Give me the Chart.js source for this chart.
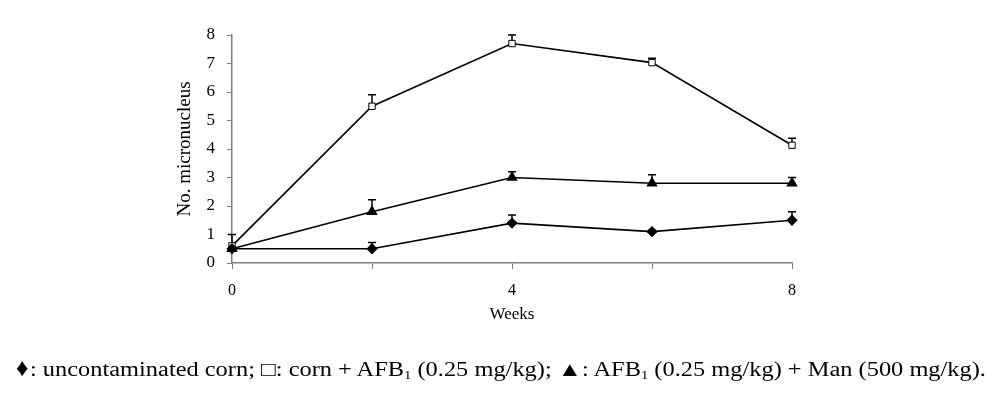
<!DOCTYPE html>
<html>
<head>
<meta charset="utf-8">
<script src="https://cdn.jsdelivr.net/npm/chart.js@4"></script>
<style>
    body { margin: 0; background: #fff; }
    #wrap { position: relative; width: 1000px; height: 393px; }
    #legenda {
        position: absolute; left: 0; top: 357px; width: 1000px;
        text-align: center; font-family: "Liberation Serif", serif; font-size: 20px; color: #000;
        line-height: 24px;
    }
    #legenda > span { display: inline-block; transform: scaleX(1.22); transform-origin: center; white-space: nowrap; }
    #legenda .sim { font-size: 25px; line-height: 0; display: inline-block; transform: scaleX(0.8); }
    #legenda sub { font-size: 12px; vertical-align: -3px; line-height: 0; }
</style>
</head>
<body>
<div id="wrap">
    <canvas id="lineChart" width="1000" height="393"></canvas>
    <div id="legenda"><span><span class="sim">&#9830;</span>: uncontaminated corn; &#9633;: corn + AFB<sub>1</sub> (0.25 mg/kg); &#9650;: AFB<sub>1</sub> (0.25 mg/kg) + Man (500 mg/kg).</span></div>
</div>
<script>
    // datos
    const weeks = [0, 2, 4, 6, 8];
    const xTickLabels = { 0: '0', 4: '4', 8: '8' };

    const controlMean = [0.5, 0.5, 1.4, 1.1, 1.5];
    const controlErr  = [0, 0.22, 0.28, 0.05, 0.3];

    const afbMean = [0.6, 5.5, 7.7, 7.03, 4.13];
    const afbErr  = [0.4, 0.4, 0.3, 0.15, 0.25];

    const manMean = [0.5, 1.8, 3.0, 2.8, 2.8];
    const manErr  = [0, 0.42, 0.2, 0.3, 0.2];

    const serif = "'Liberation Serif', 'Times New Roman', serif";

    function puntos(valores) {
        return weeks.map((w, i) => ({ x: w, y: valores[i] }));
    }

    /** Barras de error solo hacia arriba, con tope */
    const errorBars = {
        id: 'errorBars',
        beforeDatasetsDraw(chart) {
            const ctx = chart.ctx;
            const xs = chart.scales.x, ys = chart.scales.y;
            ctx.save();
            ctx.strokeStyle = '#000';
            ctx.lineWidth = 1.5;
            chart.data.datasets.forEach(ds => {
                ds.data.forEach((p, i) => {
                    const e = ds.errores[i];
                    if (!e) return;
                    const px = xs.getPixelForValue(p.x);
                    const y0 = ys.getPixelForValue(p.y);
                    const y1 = ys.getPixelForValue(p.y + e);
                    ctx.beginPath();
                    ctx.moveTo(px, y0);
                    ctx.lineTo(px, y1);
                    ctx.moveTo(px - 4, y1);
                    ctx.lineTo(px + 4, y1);
                    ctx.stroke();
                });
            });
            ctx.restore();
        }
    };

    new Chart(document.getElementById('lineChart'), {
        type: 'line',
        data: {
            datasets: [
                {
                    label: 'uncontaminated corn',
                    data: puntos(controlMean),
                    errores: controlErr,
                    clip: false,
                    borderColor: '#000', borderWidth: 1.6,
                    pointStyle: 'rectRot', pointRadius: 4.5,
                    pointBackgroundColor: '#000', pointBorderColor: '#000'
                },
                {
                    label: 'corn + AFB1 (0.25 mg/kg)',
                    data: puntos(afbMean),
                    errores: afbErr,
                    clip: false,
                    borderColor: '#000', borderWidth: 1.6,
                    pointStyle: 'rect', pointRadius: 4.5,
                    pointBackgroundColor: '#fff', pointBorderColor: '#000', pointBorderWidth: 1
                },
                {
                    label: 'AFB1 (0.25 mg/kg) + Man (500 mg/kg)',
                    data: puntos(manMean),
                    errores: manErr,
                    clip: false,
                    borderColor: '#000', borderWidth: 1.6,
                    pointStyle: 'triangle', pointRadius: 5,
                    pointBackgroundColor: '#000', pointBorderColor: '#000'
                }
            ]
        },
        options: {
            responsive: false,
            animation: false,
            layout: { padding: { left: 170, right: 208, top: 35, bottom: 64 } },
            plugins: {
                legend: { display: false },
                tooltip: { enabled: false }
            },
            scales: {
                x: {
                    type: 'linear', min: 0, max: 8,
                    afterFit: s => { s.height = 66; },
                    ticks: {
                        stepSize: 2, color: '#000', padding: 12,
                        font: { family: serif, size: 16 },
                        callback: v => xTickLabels[v] ?? ''
                    },
                    grid: { drawOnChartArea: false, drawTicks: true, tickLength: 6, color: '#808080' },
                    border: { color: '#808080', width: 1.5 },
                    title: {
                        display: true, text: 'Weeks', color: '#000',
                        font: { family: serif, size: 17 }, padding: 4
                    }
                },
                y: {
                    min: 0, max: 8,
                    afterFit: s => { s.width = 62; },
                    ticks: {
                        stepSize: 1, color: '#000', padding: 12,
                        font: { family: serif, size: 17 }
                    },
                    grid: { drawOnChartArea: false, drawTicks: true, tickLength: 5, color: '#808080' },
                    border: { color: '#808080', width: 1.5 },
                    title: {
                        display: true, text: 'No. micronucleus', color: '#000',
                        font: { family: serif, size: 19 }, padding: 4
                    }
                }
            }
        },
        plugins: [errorBars]
    });
</script>
</body>
</html>
